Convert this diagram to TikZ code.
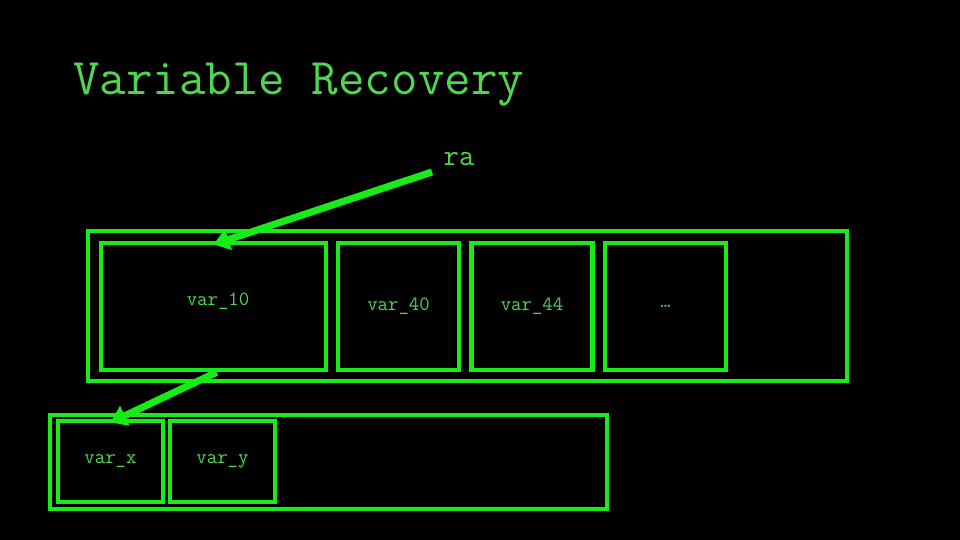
\documentclass[tikz,border=0pt]{standalone}
\usepackage{fontspec}
\setmonofont{Latin Modern Mono}
\usetikzlibrary{arrows.meta}
\definecolor{termgreen}{RGB}{25,235,25}
\definecolor{textgreen}{RGB}{80,215,80}

\begin{document}
\begin{tikzpicture}[x=0.02cm, y=-0.02cm,
    slot/.style={draw=termgreen, line width=2.3pt, rectangle, inner sep=0pt,
      font=\ttfamily\fontsize{11.5}{13}\selectfont, text=textgreen},
    frame/.style={draw=termgreen, line width=2.3pt, rectangle, inner sep=0pt},
    pointer/.style={termgreen, line width=4pt,
      -{Triangle[length=9pt,width=12pt]}}]
    % ── Background ─────────────────────────────────────────────────
    \fill[black] (0,0) rectangle (960,540);
    \useasboundingbox (0,0) rectangle (960,540);

    % Title
    \node[anchor=base west, inner sep=0pt, text=textgreen,
      font=\ttfamily\fontsize{29.3}{33}\selectfont] (title) at (73,95) {Variable Recovery};

    % ── Stack frame ────────────────────────────────────────────────
    \node[frame, minimum width=15.18cm, minimum height=3cm] (stack) at (467.5,306) {};
    \node[slot, minimum width=4.5cm, minimum height=2.54cm] (v10) at (213.5,306.5) {};
    \node[font=\ttfamily\fontsize{11.5}{13}\selectfont, text=textgreen, inner sep=0pt]
      (v10 label) at (218,301) {var\_10};
    \foreach \cx/\name/\lab in {398.5/v40/var\_40, 532/v44/var\_44, 665.5/vdots/\dots}{
      \node[slot, minimum width=2.42cm, minimum height=2.54cm] (\name) at (\cx,306.5) {\lab};
    }

    % ── Struct fields ──────────────────────────────────────────────
    \node[frame, minimum width=11.14cm, minimum height=1.88cm] (record) at (328.5,462) {};
    \node[slot, minimum width=2.1cm, minimum height=1.62cm] (vx) at (110.5,461.5) {var\_x};
    \node[slot, minimum width=2.1cm, minimum height=1.62cm] (vy) at (222.5,461.5) {var\_y};

    % Return address pointer
    \node[text=textgreen, font=\ttfamily\fontsize{17}{20}\selectfont, inner sep=0pt] (ra) at (459,159) {ra};
    \coordinate (ra tail) at (432,172);
    \draw[pointer] (ra tail) -- ([yshift=-2pt]v10.north);

    % Field pointer
    \draw[pointer, shorten <=-2pt] ([yshift=-1pt]v10.south) -- ([yshift=-2pt]vx.north);
\end{tikzpicture}
\end{document}
